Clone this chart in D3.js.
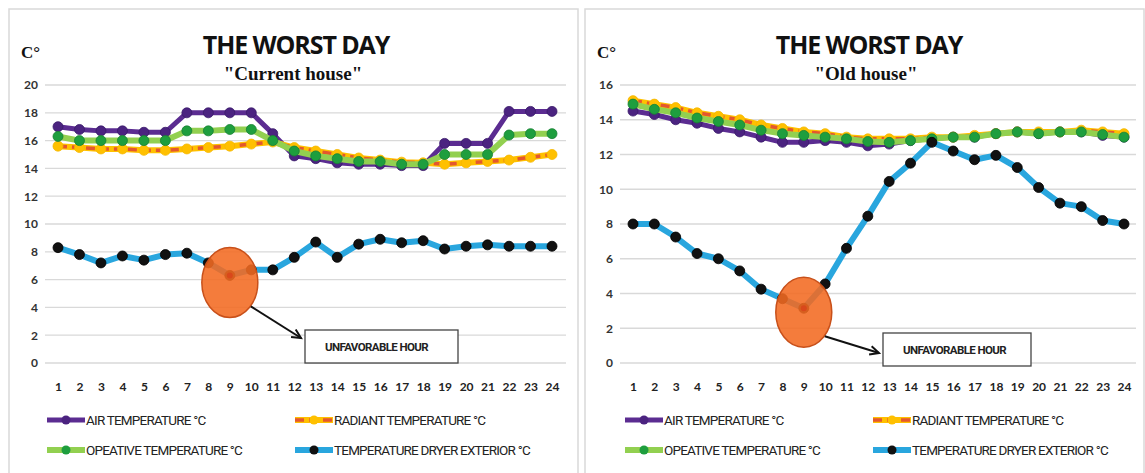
<!DOCTYPE html>
<html><head><meta charset="utf-8">
<script src="https://cdn.jsdelivr.net/npm/d3@7"></script>
<style>body{margin:0;background:#fff}svg{display:block}</style>
</head><body>
<svg id="c" width="1145" height="473"></svg>
<script>
const hours = d3.range(1, 25);
const seriesNames = ["AIR TEMPERATURE °C", "RADIANT TEMPERATURE °C", "OPEATIVE TEMPERATURE °C", "TEMPERATURE DRYER EXTERIOR °C"];
// Current house
const curAir = [17.0,16.8,16.7,16.7,16.6,16.6,18.0,18.0,18.0,18.0,16.5,14.9,14.7,14.4,14.3,14.3,14.2,14.2,15.8,15.8,15.8,18.1,18.1,18.1];
const curRad = [15.6,15.5,15.4,15.4,15.3,15.3,15.4,15.5,15.6,15.75,15.9,15.5,15.25,15.0,14.75,14.6,14.45,14.4,14.3,14.4,14.5,14.6,14.8,15.0];
const curOp  = [16.3,16.0,16.0,16.0,16.0,16.0,16.7,16.7,16.8,16.8,16.0,15.25,14.9,14.7,14.5,14.5,14.3,14.3,15.0,15.0,15.0,16.4,16.5,16.5];
const curExt = [8.3,7.8,7.2,7.7,7.4,7.8,7.9,7.2,6.3,6.7,6.7,7.6,8.7,7.6,8.55,8.9,8.65,8.8,8.2,8.4,8.5,8.4,8.4,8.4];
// Old house
const oldAir = [14.5,14.3,14.0,13.8,13.5,13.3,13.0,12.7,12.7,12.8,12.7,12.5,12.6,12.8,12.9,13.0,13.0,13.2,13.3,13.2,13.3,13.3,13.1,13.0];
const oldRad = [15.1,14.9,14.7,14.4,14.2,14.0,13.7,13.5,13.3,13.2,13.0,12.9,12.9,12.9,13.0,13.0,13.1,13.2,13.3,13.3,13.3,13.4,13.3,13.2];
const oldOp  = [14.9,14.6,14.4,14.1,13.9,13.7,13.4,13.2,13.1,13.0,12.9,12.75,12.7,12.8,12.9,13.0,13.0,13.2,13.3,13.2,13.3,13.3,13.15,13.0];
const oldExt = [8.0,8.0,7.25,6.3,6.0,5.3,4.25,3.7,3.15,4.55,6.6,8.45,10.45,11.5,12.7,12.2,11.7,11.95,11.25,10.1,9.2,9.0,8.2,8.0];
const curTicks = [0,2,4,6,8,10,12,14,16,18,20];
const oldTicks = [0,2,4,6,8,10,12,14,16];
const titles = ["THE WORST DAY", "THE WORST DAY"];
const subtitles = ["\"Current house\"", "\"Old house\""];
const annotation = "UNFAVORABLE HOUR";

const svg = d3.select("#c");

const styles = [
  {line:"#5b2c91", w:5, dot:"#4b2380", dotStroke:"#3a1a6a"},
  {line:"#ffc000", w:6, dash:"#e4572e", dot:"#ffc000", dotStroke:"#f5b800"},
  {line:"#92d050", w:6, dot:"#1e9e3e", dotStroke:"#178033"},
  {line:"#29a6de", w:6, dot:"#111", dotStroke:"#000"}
];

function panel(cfg) {
  const g = svg.append("g");
  g.append("rect").attr("x", cfg.px).attr("y", 9).attr("width", cfg.pw).attr("height", 470)
    .attr("fill", "#fff").attr("stroke", "#d9d9d9").attr("stroke-width", 1.5);
  const x = d3.scaleLinear().domain([1, 24]).range([cfg.x0, cfg.x1]);
  const y = d3.scaleLinear().domain([0, cfg.ymax]).range([363, 85]);
  g.append("g").selectAll("line").data(cfg.ticks).join("line")
    .attr("x1", cfg.g0).attr("x2", cfg.g1).attr("y1", d => y(d)).attr("y2", d => y(d))
    .attr("stroke", "#d9d9d9").attr("stroke-width", 1.3);
  const ya = g.append("g").attr("transform", `translate(${cfg.g0 - 3},0)`)
    .call(d3.axisLeft(y).tickValues(cfg.ticks).tickSize(0).tickPadding(4));
  ya.select(".domain").remove();
  ya.selectAll("text").attr("font-family", "Lato, sans-serif").attr("font-size", 12).attr("font-weight", "bold").attr("fill", "#333");
  const xa = g.append("g").attr("transform", `translate(0,378)`)
    .call(d3.axisBottom(x).tickValues(hours).tickSize(0).tickPadding(4));
  xa.select(".domain").remove();
  xa.selectAll("text").attr("font-family", "Lato, sans-serif").attr("font-size", 12).attr("font-weight", "bold").attr("fill", "#222");
  g.append("text").attr("x", cfg.tx).attr("y", 54).attr("text-anchor", "middle")
    .attr("font-family", "Open Sans, sans-serif").attr("font-weight", "bold").attr("font-size", 25)
    .attr("letter-spacing", -1.1).attr("fill", "#111").text(cfg.title);
  g.append("text").attr("x", cfg.tx - 3).attr("y", 80).attr("text-anchor", "middle")
    .attr("font-family", "Liberation Serif, serif").attr("font-weight", "bold").attr("font-size", 19)
    .attr("fill", "#111").text(cfg.sub);
  g.append("text").attr("x", cfg.px + 12).attr("y", 58)
    .attr("font-family", "Liberation Serif, serif").attr("font-weight", "bold").attr("font-size", 17)
    .attr("fill", "#111").text("C°");
  const line = d3.line().x((d, i) => x(hours[i])).y(d => y(d));
  cfg.data.forEach((arr, k) => {
    const st = styles[k];
    g.append("path").attr("d", line(arr)).attr("fill", "none").attr("stroke", st.line)
      .attr("stroke-width", st.w).attr("stroke-linejoin", "round");
    if (st.dash) {
      g.append("path").attr("d", line(arr)).attr("fill", "none").attr("stroke", st.dash)
        .attr("stroke-width", 3.5).attr("stroke-dasharray", "9,5");
    }
    g.append("g").selectAll("circle").data(arr).join("circle")
      .attr("cx", (d, i) => x(hours[i])).attr("cy", d => y(d)).attr("r", 5)
      .attr("fill", st.dot).attr("stroke", st.dotStroke).attr("stroke-width", 0.8);
  });
  const hi = cfg.mark - 1;
  const cx = x(cfg.mark), cy = y(cfg.data[3][hi]) + cfg.dy;
  g.append("ellipse").attr("cx", cx).attr("cy", cy).attr("rx", 28).attr("ry", 35)
    .attr("fill", "#f36a21").attr("fill-opacity", 0.88).attr("stroke", "#c8501a").attr("stroke-width", 1.5);
  g.append("circle").attr("cx", cx).attr("cy", y(cfg.data[3][hi])).attr("r", 3).attr("fill", "#d9481b");
  const ax1 = cx + 21, ay1 = cy + 24, ax2 = cfg.bx - 4, ay2 = cfg.by + cfg.tipDy;
  g.append("line").attr("x1", ax1).attr("y1", ay1).attr("x2", ax2).attr("y2", ay2)
    .attr("stroke", "#111").attr("stroke-width", 2);
  const ang = Math.atan2(ay2 - ay1, ax2 - ax1);
  const L = 10;
  g.append("path").attr("d",
    `M${ax2 - L*Math.cos(ang - 0.45)},${ay2 - L*Math.sin(ang - 0.45)} L${ax2},${ay2} L${ax2 - L*Math.cos(ang + 0.45)},${ay2 - L*Math.sin(ang + 0.45)}`)
    .attr("fill", "none").attr("stroke", "#111").attr("stroke-width", 2);
  g.append("rect").attr("x", cfg.bx).attr("y", cfg.by).attr("width", cfg.bw).attr("height", 33)
    .attr("fill", "#fff").attr("stroke", "#444").attr("stroke-width", 1.3);
  g.append("text").attr("x", cfg.bx + 20).attr("y", cfg.by + 21)
    .attr("font-family", "Roboto, sans-serif").attr("font-weight", "bold").attr("font-size", 11.5)
    .attr("letter-spacing", -0.6).attr("fill", "#222").text(annotation);
  const lx = [cfg.lx0, cfg.lx1];
  seriesNames.forEach((name, k) => {
    const st = styles[k];
    const col = k % 2, row = Math.floor(k / 2);
    const ox = lx[col], oy = 420 + row * 30;
    g.append("line").attr("x1", ox).attr("x2", ox + 38).attr("y1", oy).attr("y2", oy)
      .attr("stroke", st.line).attr("stroke-width", st.w);
    if (st.dash) g.append("line").attr("x1", ox).attr("x2", ox + 38).attr("y1", oy).attr("y2", oy)
      .attr("stroke", st.dash).attr("stroke-width", 3.5).attr("stroke-dasharray", "9,5");
    g.append("circle").attr("cx", ox + 19).attr("cy", oy).attr("r", 4.5).attr("fill", st.dot);
    g.append("text").attr("x", ox + 39).attr("y", oy + 5)
      .attr("font-family", "Roboto, sans-serif").attr("font-size", 13.5).attr("letter-spacing", -0.8)
      .attr("fill", "#222").text(name);
  });
}

panel({px: 9, pw: 569, x0: 58, x1: 552, g0: 45, g1: 566, ymax: 20, ticks: curTicks,
  title: titles[0], sub: subtitles[0], tx: 296,
  data: [curAir, curRad, curOp, curExt], mark: 9, dy: 7, bx: 305, by: 330, bw: 153, tipDy: 8, lx0: 47, lx1: 295});
panel({px: 585, pw: 559, x0: 633, x1: 1124, g0: 620, g1: 1136, ymax: 16, ticks: oldTicks,
  title: titles[1], sub: subtitles[1], tx: 869,
  data: [oldAir, oldRad, oldOp, oldExt], mark: 9, dy: 4, bx: 883, by: 333, bw: 148, tipDy: 20, lx0: 625, lx1: 873});
</script>
</body></html>
